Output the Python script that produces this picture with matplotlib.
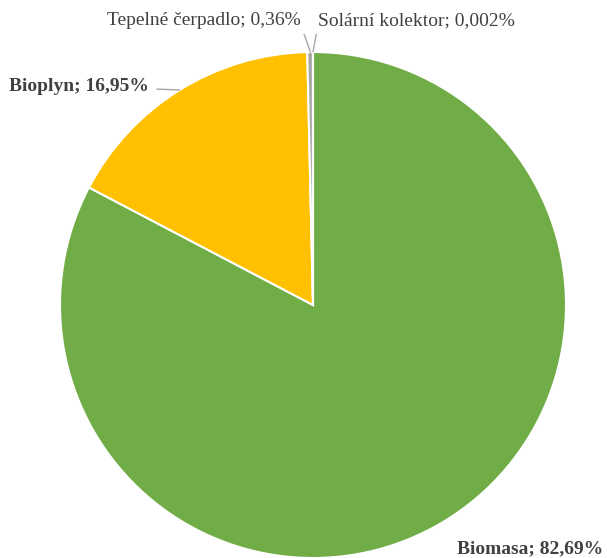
import matplotlib.pyplot as plt

labels = ["Biomasa", "Bioplyn", "Tepelné čerpadlo", "Solární kolektor"]
values = [82.69, 16.95, 0.36, 0.002]
value_text = ["82,69%", "16,95%", "0,36%", "0,002%"]
colors = ["#70AD47", "#FFC000", "#A5A5A5", "#5B9BD5"]

W, H = 607, 558
fig = plt.figure(figsize=(W / 100, H / 100), dpi=100)
# pie centre at (313, 305) px, radius 253 px
ax = fig.add_axes([60 / W, 0, 506 / W, 506 / H])
ax.pie(values, colors=colors, startangle=90, counterclock=False, radius=1,
       wedgeprops=dict(edgecolor="white", linewidth=1.5))
ax.set_xlim(-1, 1)
ax.set_ylim(-1, 1)
ax.set_aspect("equal")
ax.axis("off")

font = dict(family="Liberation Serif", color="#404040", fontsize=14)
line = dict(arrowstyle="-", color="#A6A6A6", lw=1)

# Biomasa
ax.annotate(f"{labels[0]}; {value_text[0]}", xy=(0.858, -0.965), ha="center", va="center",
            fontweight="bold", annotation_clip=False, **font)
# Bioplyn
ax.annotate(f"{labels[1]}; {value_text[1]}", xy=(-0.527, 0.85), xytext=(-0.65, 0.865),
            ha="right", va="center", fontweight="bold", annotation_clip=False,
            arrowprops=dict(line, shrinkA=4, shrinkB=0), **font)
# Tepelné čerpadlo
ax.annotate(f"{labels[2]}; {value_text[2]}", xy=(-0.01, 1.0), xytext=(-0.05, 1.125),
            ha="right", va="center", annotation_clip=False,
            arrowprops=dict(line, shrinkA=2, shrinkB=0, relpos=(1.0, 0.3)), **font)
# Solární kolektor
ax.annotate(f"{labels[3]}; {value_text[3]}", xy=(0.0, 1.0), xytext=(0.02, 1.125),
            ha="left", va="center", annotation_clip=False,
            arrowprops=dict(line, shrinkA=2, shrinkB=0, relpos=(0.0, 0.3)), **font)

fig.savefig("out.png", dpi=100)
